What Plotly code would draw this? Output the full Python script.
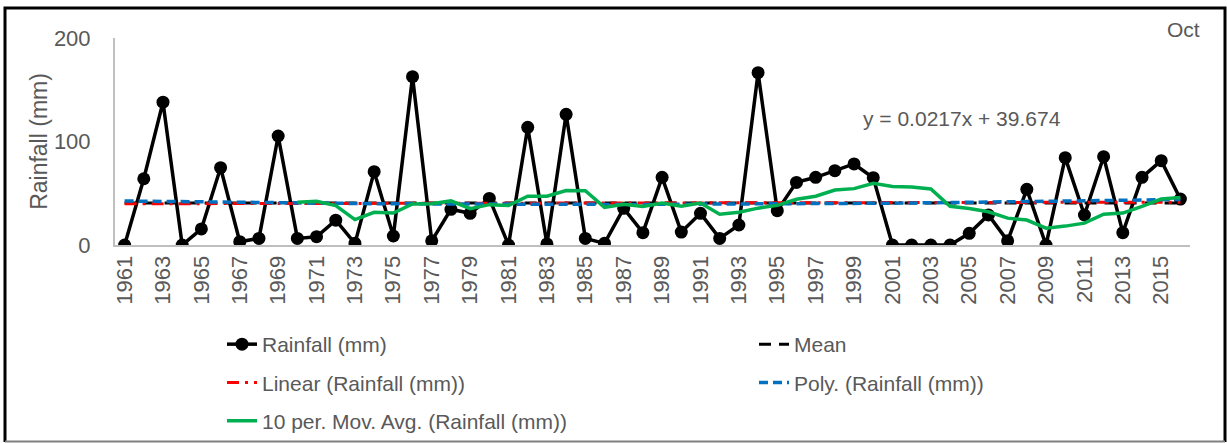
import numpy as np
import pandas as pd
import plotly.graph_objects as go

years = list(range(1961, 2017))
rainfall = [0, 64, 138, 0, 15.5, 74.7, 3.2, 6.4, 105.3, 6.4,
            8, 24, 1.6, 70.8, 8.7, 162.6, 4, 34.5, 30.6, 45,
            0, 113.7, 1, 126.3, 6.4, 1.6, 35.4, 11.9, 65.4, 12.5,
            30.6, 6.4, 19.3, 166.5, 33.2, 60.5, 65.4, 71.8, 78.3, 65,
            0, 0, 0, 0, 11.3, 29, 4, 53.8, 0, 84.4,
            29, 85.3, 11.9, 65.4, 81.5, 44.4]
tick_years = years[::2]
equation_text = "y = 0.0217x + 39.674"
month_label = "Oct"

# derived series (as Excel trendlines)
idx = np.arange(1, len(rainfall) + 1)
mean_val = float(np.mean(rainfall))
mean_series = [mean_val] * len(rainfall)
lin_coef = np.polyfit(idx, rainfall, 1)
linear_series = np.polyval(lin_coef, idx)
poly_coef = np.polyfit(idx, rainfall, 2)
poly_series = np.polyval(poly_coef, idx)
movavg_series = pd.Series(rainfall).rolling(10).mean()

W, H = 1227, 443
L, R, T, B = 115, 37, 38, 198
PW, PH = W - L - R, H - T - B

def px(x):
    return (x - L) / PW

def py(y):
    return (H - B - y) / PH

TXT = "#595959"
FONT = "Liberation Sans"

fig = go.Figure()
fig.add_trace(go.Scatter(x=years, y=rainfall, name="Rainfall (mm)", mode="lines+markers",
                         line=dict(color="black", width=3.5),
                         marker=dict(color="black", size=13),
                         legend="legend", legendgroup="a"))
fig.add_trace(go.Scatter(x=years, y=mean_series, name="Mean", mode="lines",
                         line=dict(color="black", width=3, dash="12px,8px"),
                         legend="legend2", legendgroup="b"))
fig.add_trace(go.Scatter(x=years, y=linear_series, name="Linear (Rainfall (mm))", mode="lines",
                         line=dict(color="#FF0000", width=3, dash="12px,6px,3px,6px"),
                         legend="legend", legendgroup="c"))
fig.add_trace(go.Scatter(x=years, y=poly_series, name="Poly. (Rainfall (mm))", mode="lines",
                         line=dict(color="#0070C0", width=3.5, dash="9px,5px"),
                         legend="legend2", legendgroup="d"))
fig.add_trace(go.Scatter(x=years, y=movavg_series, name="10 per. Mov. Avg. (Rainfall (mm))", mode="lines",
                         line=dict(color="#00B050", width=3.5),
                         legend="legend", legendgroup="e"))

fig.add_annotation(x=px(962), y=py(119), xref="paper", yref="paper", text=equation_text,
                   xanchor="center", yanchor="middle",
                   showarrow=False, font=dict(family=FONT, size=21, color=TXT))
fig.add_annotation(x=px(1183), y=py(29), xref="paper", yref="paper", text=month_label,
                   xanchor="center", yanchor="middle",
                   showarrow=False, font=dict(family=FONT, size=21, color=TXT))

# outer frame
fig.add_shape(type="path", xref="paper", yref="paper",
              path=f"M {px(5)},{py(442)} L {px(5)},{py(8)} L {px(1225)},{py(8)} L {px(1225)},{py(442)}",
              line=dict(color="black", width=3))
fig.add_shape(type="line", xref="paper", yref="paper", x0=px(5), x1=px(1225), y0=py(441.5), y1=py(441.5),
              line=dict(color="#808080", width=2))

leg_common = dict(orientation="v", xanchor="left", yanchor="top", tracegroupgap=8,
                  font=dict(family=FONT, size=21, color=TXT), bgcolor="rgba(0,0,0,0)")
fig.update_layout(
    width=W, height=H,
    margin=dict(l=L, r=R, t=T, b=B, autoexpand=False),
    paper_bgcolor="white", plot_bgcolor="white",
    font=dict(family=FONT, color=TXT, size=21),
    showlegend=True,
    legend=dict(x=px(222), y=py(324), **leg_common),
    legend2=dict(x=px(754), y=py(324), **leg_common),
)
fig.update_xaxes(range=[1960.5, 2016.5], tickmode="array", tickvals=tick_years,
                 ticktext=[str(y) for y in tick_years], tickangle=-90, automargin=False,
                 showgrid=False, zeroline=False, showline=True, linecolor="#BFBFBF", linewidth=2,
                 ticks="", tickfont=dict(family=FONT, size=22, color=TXT))
fig.update_yaxes(range=[0, 200], tickvals=[0, 100, 200], showgrid=False, zeroline=False,
                 showline=True, linecolor="#BFBFBF", linewidth=2, ticks="", automargin=False,
                 ticklabelstandoff=18,
                 tickfont=dict(family=FONT, size=22, color=TXT),
                 title=dict(text="Rainfall (mm)", font=dict(family=FONT, size=23, color=TXT), standoff=0))

fig.write_html("out.html")
